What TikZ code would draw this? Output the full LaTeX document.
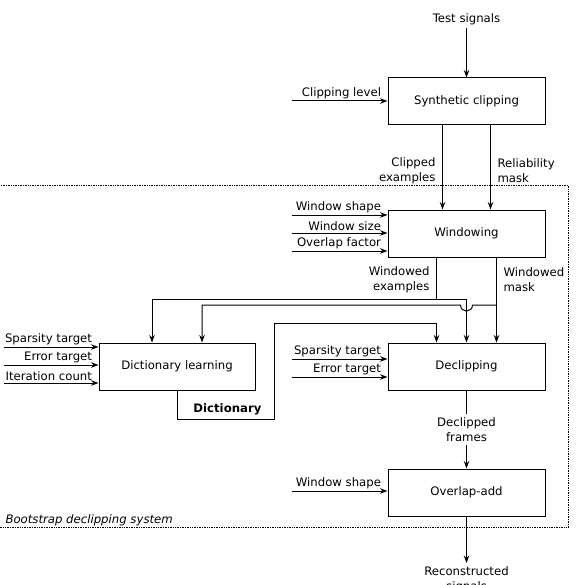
\documentclass[tikz,border=0pt]{standalone}
\usepackage{fontspec}
\setmainfont{DejaVu Sans}
\usetikzlibrary{positioning,arrows.meta}

\begin{document}
\begin{tikzpicture}[
    x=1pt, y=-1pt,
    font=\fontsize{11.7}{15}\selectfont,
    line width=1pt,
    >={Stealth[length=7.5pt,width=5.5pt]},
    node distance=84pt,
    block/.style={draw, rectangle, minimum width=157pt, minimum height=47pt, inner sep=0pt},
    inlbl/.style={anchor=south east, xshift=-4pt, inner sep=2pt},
    outlbl/.style={inner sep=1pt}
  ]
    \useasboundingbox (0,0) rectangle (576,585);

    % Colonne de droite
    \node (test) at (466.5,19) {Test signals};
    \node[block] (synth) at (466.5,101.5) {Synthetic clipping};
    \node[block, below=84pt of synth] (windowing) {Windowing};
    \node[block, below=85pt of windowing] (declip) {Declipping};
    \node[block, below=78pt of declip] (ola) {Overlap-add};
    \node[align=center, anchor=north, inner sep=3pt] (recon) at (466.5,563) {Reconstructed\\signals};

    % Apprentissage du dictionnaire
    \node[block, minimum width=156pt, left=132pt of declip] (diclearn) {Dictionary learning};

    % Cadre du systeme
    \node[draw, densely dotted, line width=0.7pt, rectangle, anchor=north west, minimum width=572pt, minimum height=342pt, inner sep=0pt] (system) at (-4,185) {};
    \node[anchor=south west, font=\fontsize{11.7}{15}\selectfont\itshape, inner sep=2pt] (systemlbl) at (3,528) {Bootstrap declipping system};

    % Entrees
    \coordinate (clipin) at (292,101);
    \draw[->] (clipin) -- (clipin -| synth.west);
    \node[inlbl] at (clipin -| synth.west) {Clipping level};

    \coordinate (shapein) at (292,215);
    \coordinate (sizein) at (292,233);
    \coordinate (overlapin) at (292,251);
    \draw[->] (shapein) -- (shapein -| windowing.west);
    \draw[->] (sizein) -- (sizein -| windowing.west);
    \draw[->] (overlapin) -- (overlapin -| windowing.west);
    \node[inlbl] at (shapein -| windowing.west) {Window shape};
    \node[inlbl] at (sizein -| windowing.west) {Window size};
    \node[inlbl] at (overlapin -| windowing.west) {Overlap factor};

    \coordinate (sparsein) at (4,347);
    \coordinate (errin) at (4,365);
    \coordinate (iterin) at (4,383);
    \draw[->] (sparsein) -- (sparsein -| diclearn.west);
    \draw[->] (errin) -- (errin -| diclearn.west);
    \draw[->] (iterin) -- (iterin -| diclearn.west);
    \node[inlbl] at (sparsein -| diclearn.west) {Sparsity target};
    \node[inlbl] at (errin -| diclearn.west) {Error target};
    \node[inlbl] at (iterin -| diclearn.west) {Iteration count};

    \coordinate (dsparsein) at (292,359);
    \coordinate (derrin) at (292,377);
    \draw[->] (dsparsein) -- (dsparsein -| declip.west);
    \draw[->] (derrin) -- (derrin -| declip.west);
    \node[inlbl] at (dsparsein -| declip.west) {Sparsity target};
    \node[inlbl] at (derrin -| declip.west) {Error target};

    \coordinate (olain) at (292,491);
    \draw[->] (olain) -- (olain -| ola.west);
    \node[inlbl] at (olain -| ola.west) {Window shape};

    % Fleches principales
    \draw[->] (test) -- (synth);
    \draw[->] ([xshift=-24pt]synth.south) -- ([xshift=-24pt]windowing.north);
    \draw[->] ([xshift=24pt]synth.south) -- ([xshift=24pt]windowing.north);
    \node[outlbl, align=right, anchor=east] (clippedlbl) at (437,171) {Clipped\\examples};
    \node[outlbl, align=left, anchor=west] (masklbl) at (496,171) {Reliability\\mask};

    % Sorties du fenetrage
    \coordinate (wex) at (436.5,299);
    \coordinate (wmask) at (496.5,305);
    \draw ([xshift=-30pt]windowing.south) -- (wex);
    \draw[->] (wex) -| ([xshift=-25pt]diclearn.north);
    \draw[->] (wex) -| (declip.north);
    \draw[->] ([xshift=30pt]windowing.south) -- ([xshift=30pt]declip.north);
    \draw[->] (wmask) -- ++(-24,0) .. controls +(0,8) and +(0,8) .. ++(-12,0) -| ([xshift=25pt]diclearn.north);
    \node[outlbl, align=right, anchor=east] (wexlbl) at (431,280) {Windowed\\examples};
    \node[outlbl, align=left, anchor=west] (wmasklbl) at (502,280) {Windowed\\mask};

    % Dictionnaire -> declipping
    \coordinate (dicta) at (274,419);
    \coordinate (dictb) at (274,323);
    \draw[->] (diclearn.south) |- node[pos=0.76, above, font=\fontsize{11.7}{15}\selectfont\bfseries] {Dictionary} (dicta) -- (dictb) -| ([xshift=-30pt]declip.north);

    % Sortie
    \draw[->] (declip) -- node[fill=white, align=center, inner sep=3pt] {Declipped\\frames} (ola);
    \draw[->] (ola) -- (recon);

  \end{tikzpicture}
\end{document}
